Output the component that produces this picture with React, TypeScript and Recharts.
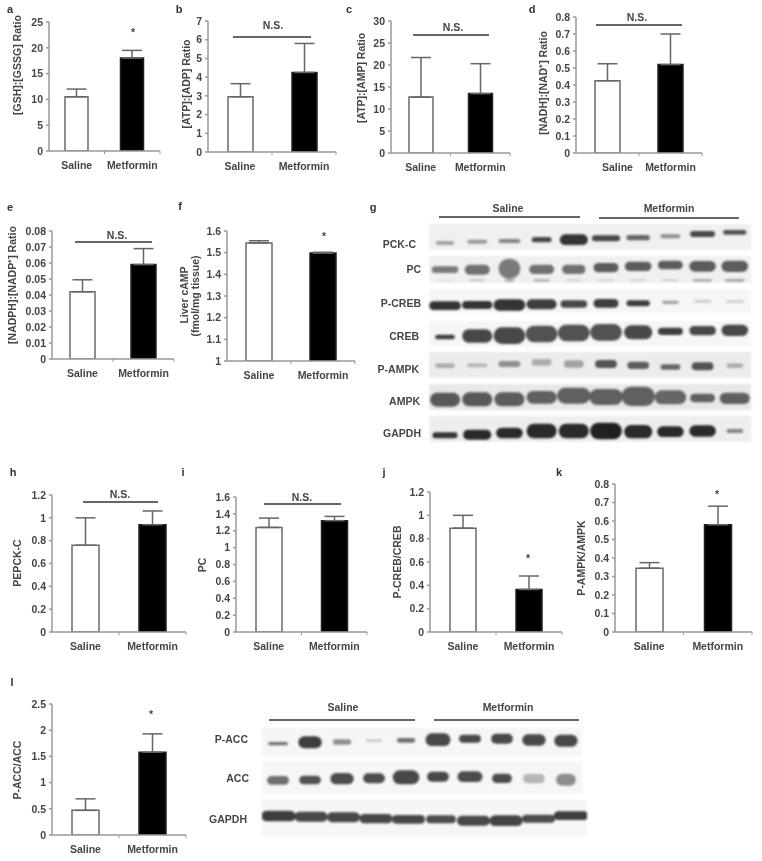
import { BarChart, Bar, XAxis, YAxis, Cell, ErrorBar } from 'recharts';

const groups = ['Saline', 'Metformin'];

// bar charts: group means and the top of each error bar
const gshMean = [10.5, 18];
const gshTop = [12, 19.5];
const atpAdpMean = [2.95, 4.25];
const atpAdpTop = [3.65, 5.8];
const atpAmpMean = [12.7, 13.5];
const atpAmpTop = [21.7, 20.3];
const nadMean = [0.425, 0.52];
const nadTop = [0.525, 0.7];
const nadpMean = [0.042, 0.059];
const nadpTop = [0.0495, 0.069];
const campMean = [1.545, 1.498];
const campTop = [1.555, 1.502];
const pepckMean = [0.76, 0.94];
const pepckTop = [1.0, 1.06];
const pcMean = [1.24, 1.32];
const pcTop = [1.35, 1.37];
const pCrebMean = [0.89, 0.365];
const pCrebTop = [1.0, 0.48];
const pAmpkMean = [0.345, 0.58];
const pAmpkTop = [0.375, 0.68];
const pAccMean = [0.47, 1.58];
const pAccTop = [0.69, 1.93];

const ticks25 = [0, 5, 10, 15, 20, 25];
const ticks7 = [0, 1, 2, 3, 4, 5, 6, 7];
const ticks30 = [0, 5, 10, 15, 20, 25, 30];
const ticks08 = [0, 0.1, 0.2, 0.3, 0.4, 0.5, 0.6, 0.7, 0.8];
const ticks008 = [0, 0.01, 0.02, 0.03, 0.04, 0.05, 0.06, 0.07, 0.08];
const ticksCamp = [1, 1.1, 1.2, 1.3, 1.4, 1.5, 1.6];
const ticks12 = [0, 0.2, 0.4, 0.6, 0.8, 1, 1.2];
const ticks16 = [0, 0.2, 0.4, 0.6, 0.8, 1, 1.2, 1.4, 1.6];
const ticks25s = [0, 0.5, 1, 1.5, 2, 2.5];

// western blots: ten lanes, band centre above the strip floor, band thickness (gel units), band breadth (share of lane), density
const lanes = ['1', '2', '3', '4', '5', '6', '7', '8', '9', '10'];

const pckCentre = [20, 24, 26, 30, 30, 34, 36, 40, 47, 52];
const pckThick = [12, 12, 12, 16, 32, 18, 16, 12, 18, 14];
const pckBreadth = [0.57, 0.62, 0.68, 0.62, 0.88, 0.88, 0.73, 0.62, 0.78, 0.73];
const pckDensity = [0.35, 0.4, 0.5, 0.8, 0.9, 0.8, 0.65, 0.45, 0.8, 0.75];

const pcCentre = [39, 39, 42, 40, 40, 45, 49, 53, 49, 49];
const pcThick = [20, 30, 60, 28, 28, 28, 28, 26, 32, 34];
const pcBreadth = [0.83, 0.78, 0.68, 0.78, 0.73, 0.78, 0.83, 0.78, 0.83, 0.83];
const pcDensity = [0.55, 0.6, 0.55, 0.6, 0.6, 0.7, 0.7, 0.7, 0.7, 0.7];
const pcLowCentre = [7, 7, 7, 7, 7, 7, 7, 7, 7, 7];
const pcLowThick = [6, 6, 8, 8, 6, 6, 6, 6, 8, 8];
const pcLowBreadth = [0.5, 0.5, 0.3, 0.5, 0.5, 0.5, 0.5, 0.5, 0.6, 0.6];
const pcLowDensity = [0.03, 0.18, 0.3, 0.25, 0.12, 0.12, 0.12, 0.15, 0.3, 0.35];

const pCrebCentre = [23, 25, 25, 27, 28, 30, 30, 33, 36, 35];
const pCrebThick = [26, 24, 34, 30, 22, 26, 18, 10, 8, 8];
const pCrebBreadth = [0.99, 0.94, 0.99, 0.94, 0.83, 0.78, 0.73, 0.52, 0.52, 0.57];
const pCrebDensity = [0.9, 0.9, 0.9, 0.85, 0.8, 0.85, 0.85, 0.35, 0.15, 0.12];

const crebCentre = [30, 33, 34, 39, 42, 44, 44, 47, 49, 50];
const crebThick = [14, 40, 50, 50, 50, 50, 42, 22, 28, 34];
const crebBreadth = [0.62, 0.94, 0.99, 0.99, 0.99, 0.99, 0.88, 0.78, 0.83, 0.83];
const crebDensity = [0.85, 0.8, 0.8, 0.75, 0.75, 0.75, 0.8, 0.85, 0.8, 0.8];

const pAmpkCentre = [37, 38, 42, 47, 42, 42, 38, 33, 35, 37];
const pAmpkThick = [14, 12, 18, 20, 22, 24, 22, 16, 24, 14];
const pAmpkBreadth = [0.62, 0.62, 0.68, 0.62, 0.62, 0.68, 0.68, 0.62, 0.68, 0.52];
const pAmpkDensity = [0.3, 0.25, 0.45, 0.3, 0.35, 0.75, 0.7, 0.65, 0.75, 0.3];

const ampkCentre = [30, 31, 31, 37, 42, 38, 40, 37, 35, 34];
const ampkThick = [42, 42, 42, 38, 48, 48, 58, 42, 26, 34];
const ampkBreadth = [0.94, 0.94, 0.94, 0.94, 1.04, 1.04, 1.04, 0.99, 0.78, 0.94];
const ampkDensity = [0.72, 0.72, 0.7, 0.68, 0.68, 0.68, 0.68, 0.65, 0.68, 0.68];

const gapdhCentre = [20, 22, 27, 33, 33, 33, 31, 31, 33, 33];
const gapdhThick = [18, 30, 32, 44, 44, 50, 40, 32, 34, 12];
const gapdhBreadth = [0.78, 0.88, 0.83, 0.94, 0.94, 0.99, 0.88, 0.83, 0.83, 0.52];
const gapdhDensity = [0.9, 0.95, 0.95, 0.95, 0.95, 1, 0.95, 0.95, 0.95, 0.5];

const pAccCentre = [36, 40, 41, 45, 46, 48, 51, 51, 47, 45];
const pAccThick = [10, 36, 16, 8, 14, 38, 24, 30, 34, 36];
const pAccBreadth = [0.62, 0.73, 0.57, 0.52, 0.57, 0.78, 0.68, 0.68, 0.73, 0.73];
const pAccDensity = [0.6, 0.85, 0.45, 0.15, 0.6, 0.8, 0.8, 0.8, 0.8, 0.8];

const accCentre = [40, 41, 45, 46, 49, 51, 51, 46, 45, 42];
const accThick = [26, 26, 34, 30, 42, 30, 32, 28, 28, 36];
const accBreadth = [0.68, 0.68, 0.73, 0.68, 0.83, 0.68, 0.78, 0.62, 0.68, 0.62];
const accDensity = [0.6, 0.75, 0.78, 0.78, 0.8, 0.8, 0.78, 0.78, 0.25, 0.45];

const gapdh2Centre = [60, 58, 56, 52, 50, 50, 46, 46, 52, 61];
const gapdh2Thick = [32, 30, 30, 28, 26, 24, 30, 32, 24, 26];
const gapdh2Breadth = [1.04, 1.0, 1.0, 1.0, 1.0, 0.9, 1.0, 1.0, 1.0, 1.04];
const gapdh2Density = [0.85, 0.8, 0.8, 0.8, 0.8, 0.78, 0.8, 0.82, 0.78, 0.85];

const font = '"Liberation Sans", Arial, sans-serif';
const ink = '#454545';

function Caption({ x, y, text, size = 10.5, color = ink, anchor = 'center', rotate = false }: any) {
  const shift = anchor === 'right' ? '-100%' : anchor === 'left' ? '0' : '-50%';
  return (
    <div
      style={{
        position: 'absolute',
        left: x,
        top: y,
        transform: `translate(${rotate ? '-50%' : shift}, -50%)${rotate ? ' rotate(-90deg)' : ''}`,
        font: `bold ${size}px ${font}`,
        color,
        whiteSpace: 'nowrap',
      }}
    >
      {text}
    </div>
  );
}

function Rule({ x1, x2, y, color = '#666' }: any) {
  return <div style={{ position: 'absolute', left: x1, top: y - 0.75, width: x2 - x1, height: 1.5, background: color }} />;
}

function Panel({ left, right, top, zero, barSize, means, tops, domain, ticks, shift = [0, 0] }: any) {
  const gutter = 42;
  const padTop = 6;
  const foot = 26;
  const plotWidth = right - left;
  const rows = groups.map((name, i) => ({ name, mean: means[i], err: [0, tops[i] - means[i]] }));

  const GroupTick = ({ x, y, payload, index }: any) => (
    <g>
      <line x1={x + plotWidth / 4} x2={x + plotWidth / 4} y1={y} y2={y + 3} stroke="#999" strokeWidth={1} />
      <text
        x={x + shift[index]}
        y={y + 18}
        textAnchor="middle"
        fontFamily={font}
        fontWeight="bold"
        fontSize={10.5}
        fill={ink}
      >
        {payload.value}
      </text>
    </g>
  );

  return (
    <div style={{ position: 'absolute', left: left - gutter, top: top - padTop }}>
      <BarChart
        width={gutter + plotWidth + 4}
        height={padTop + (zero - top) + foot}
        data={rows}
        margin={{ top: padTop, right: 4, left: 0, bottom: 0 }}
      >
        <XAxis
          dataKey="name"
          height={foot}
          interval={0}
          tickLine={false}
          tickSize={0}
          tickMargin={0}
          stroke="#999"
          strokeWidth={1.5}
          tick={<GroupTick />}
        />
        <YAxis
          type="number"
          width={gutter}
          domain={domain}
          ticks={ticks}
          interval={0}
          allowDataOverflow
          stroke="#999"
          strokeWidth={1.5}
          tickSize={3}
          tickMargin={3}
          tick={{ fontFamily: font, fontWeight: 'bold', fontSize: 10.5, fill: ink }}
        />
        <Bar dataKey="mean" barSize={barSize} stroke="#6a6a6a" strokeWidth={1.5} isAnimationActive={false}>
          {rows.map((row, i) => (
            <Cell key={row.name} fill={i === 0 ? '#fff' : '#000'} stroke={i === 0 ? '#6a6a6a' : '#222'} />
          ))}
          <ErrorBar dataKey="err" direction="y" width={10} stroke="#666" strokeWidth={1.5} isAnimationActive={false} />
        </Bar>
      </BarChart>
    </div>
  );
}

function BandShape({ x, y, width, height, payload }: any) {
  const w = width * payload.breadth;
  const h = Math.abs(height);
  const shade = Math.round(232 - payload.density * 200);
  return (
    <rect
      x={x + (width - w) / 2}
      y={y}
      width={w}
      height={h}
      rx={Math.min(w / 2, h / 2)}
      fill={`rgb(${shade},${shade},${shade})`}
    />
  );
}

function Strip({ left, top, width, units, centre, thick, breadth, density, back = '#f0f0f0', extra }: any) {
  const height = units / 3;
  const build = (c: number[], t: number[], b: number[], d: number[]) =>
    lanes.map((lane, i) => ({
      lane,
      band: [c[i] - t[i] / 2, c[i] + t[i] / 2],
      breadth: b[i],
      density: d[i],
    }));
  const layer = (rows: any[]) => (
    <div style={{ position: 'absolute', left: 0, top: 0 }}>
      <BarChart width={width} height={height} data={rows} barCategoryGap={0} margin={{ top: 0, right: 0, left: 0, bottom: 0 }}>
        <XAxis dataKey="lane" hide />
        <YAxis type="number" hide domain={[0, units]} allowDataOverflow />
        <Bar dataKey="band" shape={<BandShape />} isAnimationActive={false} />
      </BarChart>
    </div>
  );
  return (
    <div style={{ position: 'absolute', left, top, width, height, background: back, filter: 'blur(1.1px)' }}>
      {extra ? layer(build(extra[0], extra[1], extra[2], extra[3])) : null}
      {layer(build(centre, thick, breadth, density))}
    </div>
  );
}

export default function App() {
  return (
    <div
      style={{
        position: 'absolute',
        left: 0,
        top: 0,
        width: 762,
        height: 861,
        background: '#fff',
        overflow: 'hidden',
        filter: 'blur(0.4px)',
      }}
    >
      {/* a */}
      <Caption x={10} y={9} text="a" size={11} color="#333" />
      <Panel left={49} right={160} top={22} zero={151} barSize={23} means={gshMean} tops={gshTop} domain={[0, 25]} ticks={ticks25} />
      <Caption x={17} y={65} text="[GSH]:[GSSG] Ratio" rotate />
      <Caption x={133} y={32} text="*" />

      {/* b */}
      <Caption x={179} y={9} text="b" size={11} color="#333" />
      <Panel left={208} right={336} top={21} zero={152} barSize={25} means={atpAdpMean} tops={atpAdpTop} domain={[0, 7]} ticks={ticks7} />
      <Caption x={186} y={84} text="[ATP]:[ADP] Ratio" rotate />
      <Caption x={273} y={25} text="N.S." />
      <Rule x1={233} x2={311} y={37} />

      {/* c */}
      <Caption x={349} y={9} text="c" size={11} color="#333" />
      <Panel left={391} right={510} top={21} zero={153} barSize={24} means={atpAmpMean} tops={atpAmpTop} domain={[0, 30]} ticks={ticks30} />
      <Caption x={361} y={78} text="[ATP]:[AMP] Ratio" rotate />
      <Caption x={453} y={27} text="N.S." />
      <Rule x1={413} x2={489} y={35} />

      {/* d */}
      <Caption x={532} y={9} text="d" size={11} color="#333" />
      <Panel left={576} right={702} top={17} zero={153} barSize={25} means={nadMean} tops={nadTop} domain={[0, 0.8]} ticks={ticks08} shift={[10, 0]} />
      <Caption x={543} y={83} text="[NADH]:[NAD⁺] Ratio" rotate />
      <Caption x={637} y={17} text="N.S." />
      <Rule x1={596} x2={682} y={25} />

      {/* e */}
      <Caption x={10} y={207} text="e" size={11} color="#333" />
      <Panel left={52} right={174} top={231} zero={359} barSize={25} means={nadpMean} tops={nadpTop} domain={[0, 0.08]} ticks={ticks008} />
      <Caption x={12} y={285} text="[NADPH]:[NADP⁺] Ratio" rotate />
      <Caption x={117} y={235} text="N.S." />
      <Rule x1={75} x2={152} y={242} />

      {/* f */}
      <Caption x={180} y={206} text="f" size={11} color="#333" />
      <Panel left={227} right={355} top={231} zero={361} barSize={26} means={campMean} tops={campTop} domain={[1, 1.6]} ticks={ticksCamp} />
      <Caption x={184} y={295} text="Liver cAMP" rotate />
      <Caption x={195} y={296} text="(fmol/mg tissue)" rotate />
      <Caption x={324} y={236} text="*" />

      {/* g */}
      <Caption x={373} y={207} text="g" size={11} color="#333" />
      <Caption x={508} y={208} text="Saline" />
      <Rule x1={439} x2={580} y={217} />
      <Caption x={669} y={208} text="Metformin" />
      <Rule x1={599} x2={739} y={218} />

      <Strip left={429} top={224} width={322} units={77} centre={pckCentre} thick={pckThick} breadth={pckBreadth} density={pckDensity} />
      <Strip left={429} top={256} width={322} units={80} centre={pcCentre} thick={pcThick} breadth={pcBreadth} density={pcDensity} extra={[pcLowCentre, pcLowThick, pcLowBreadth, pcLowDensity]} />
      <Strip left={429} top={290} width={322} units={70} centre={pCrebCentre} thick={pCrebThick} breadth={pCrebBreadth} density={pCrebDensity} back="#f6f6f6" />
      <Strip left={429} top={321} width={322} units={78} centre={crebCentre} thick={crebThick} breadth={crebBreadth} density={crebDensity} back="#f6f6f6" />
      <Strip left={429} top={352} width={322} units={78} centre={pAmpkCentre} thick={pAmpkThick} breadth={pAmpkBreadth} density={pAmpkDensity} back="#ececec" />
      <Strip left={429} top={384} width={322} units={77} centre={ampkCentre} thick={ampkThick} breadth={ampkBreadth} density={ampkDensity} back="#e8e8e8" />
      <Strip left={429} top={416} width={322} units={78} centre={gapdhCentre} thick={gapdhThick} breadth={gapdhBreadth} density={gapdhDensity} back="#eeeeee" />

      <Caption x={416} y={244} text="PCK-C" anchor="right" />
      <Caption x={421} y={269} text="PC" anchor="right" />
      <Caption x={421} y={303} text="P-CREB" anchor="right" />
      <Caption x={419} y={336} text="CREB" anchor="right" />
      <Caption x={419} y={369} text="P-AMPK" anchor="right" />
      <Caption x={420} y={401} text="AMPK" anchor="right" />
      <Caption x={421} y={433} text="GAPDH" anchor="right" />

      {/* h */}
      <Caption x={13} y={472} text="h" size={11} color="#333" />
      <Panel left={52} right={186} top={495} zero={632} barSize={27} means={pepckMean} tops={pepckTop} domain={[0, 1.2]} ticks={ticks12} />
      <Caption x={17} y={563} text="PEPCK-C" rotate />
      <Caption x={120} y={494} text="N.S." />
      <Rule x1={83} x2={158} y={502} />

      {/* i */}
      <Caption x={183} y={472} text="i" size={11} color="#333" />
      <Panel left={236} right={367} top={497} zero={632} barSize={26} means={pcMean} tops={pcTop} domain={[0, 1.6]} ticks={ticks16} />
      <Caption x={202} y={565} text="PC" rotate />
      <Caption x={302} y={497} text="N.S." />
      <Rule x1={264} x2={341} y={504} />

      {/* j */}
      <Caption x={384} y={472} text="j" size={11} color="#333" />
      <Panel left={430} right={562} top={492} zero={632} barSize={26} means={pCrebMean} tops={pCrebTop} domain={[0, 1.2]} ticks={ticks12} />
      <Caption x={397} y={562} text="P-CREB/CREB" rotate />
      <Caption x={528} y={558} text="*" />

      {/* k */}
      <Caption x={559} y={472} text="k" size={11} color="#333" />
      <Panel left={615} right={752} top={484} zero={632} barSize={27} means={pAmpkMean} tops={pAmpkTop} domain={[0, 0.8]} ticks={ticks08} />
      <Caption x={581} y={558} text="P-AMPK/AMPK" rotate />
      <Caption x={717} y={494} text="*" />

      {/* l */}
      <Caption x={12} y={682} text="l" size={11} color="#333" />
      <Panel left={52} right={186} top={704} zero={835} barSize={27} means={pAccMean} tops={pAccTop} domain={[0, 2.5]} ticks={ticks25s} />
      <Caption x={17} y={770} text="P-ACC/ACC" rotate />
      <Caption x={151} y={714} text="*" />

      <Caption x={343} y={707} text="Saline" />
      <Rule x1={269} x2={415} y={720} />
      <Caption x={508} y={707} text="Metformin" />
      <Rule x1={434} x2={579} y={720} />

      <Strip left={262} top={728} width={320} units={83} centre={pAccCentre} thick={pAccThick} breadth={pAccBreadth} density={pAccDensity} back="#f6f6f6" />
      <Strip left={262} top={762} width={320} units={95} centre={accCentre} thick={accThick} breadth={accBreadth} density={accDensity} back="#f6f6f6" />
      <Strip left={262} top={800} width={325} units={108} centre={gapdh2Centre} thick={gapdh2Thick} breadth={gapdh2Breadth} density={gapdh2Density} back="#f6f6f6" />

      <Caption x={248} y={739} text="P-ACC" anchor="right" />
      <Caption x={249} y={778} text="ACC" anchor="right" />
      <Caption x={247} y={819} text="GAPDH" anchor="right" />
    </div>
  );
}
